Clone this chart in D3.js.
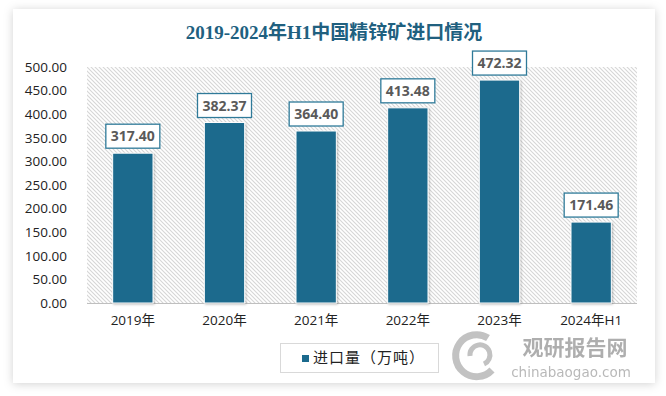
<!DOCTYPE html>
<html>
<head>
<meta charset="utf-8">
<script src="https://cdn.jsdelivr.net/npm/d3@7/dist/d3.min.js"></script>
<style>
  html, body { margin: 0; padding: 0; background: #ffffff; }
  svg { display: block; }
</style>
</head>
<body>
<svg id="chart" width="666" height="396"></svg>
<script>
const categories = ["2019年", "2020年", "2021年", "2022年", "2023年", "2024年H1"];
const imports = [317.40, 382.37, 364.40, 413.48, 472.32, 171.46];
const yTicks = [0, 50, 100, 150, 200, 250, 300, 350, 400, 450, 500];
const titleText = "2019-2024年H1中国精锌矿进口情况";
const seriesName = "进口量（万吨）";

const svg = d3.select("#chart");
const defs = svg.append("defs");

const shadow = defs.append("filter").attr("id", "cardShadow")
  .attr("x", "-5%").attr("y", "-5%").attr("width", "110%").attr("height", "112%");
shadow.append("feDropShadow").attr("dx", 0).attr("dy", 1).attr("stdDeviation", 5)
  .attr("flood-color", "#000").attr("flood-opacity", 0.18);

const pat = defs.append("pattern").attr("id", "hatch")
  .attr("patternUnits", "userSpaceOnUse").attr("width", 4).attr("height", 4);
pat.append("rect").attr("width", 4).attr("height", 4).attr("fill", "#ffffff");
pat.append("path").attr("d", "M-1,-1 L5,5 M-1,3 L1,5 M3,-1 L5,1")
  .attr("stroke", "#d6d6d6").attr("stroke-width", 1.1);

const barShadow = defs.append("filter").attr("id", "barShadow")
  .attr("x", "-20%").attr("y", "-10%").attr("width", "140%").attr("height", "120%");
barShadow.append("feDropShadow").attr("dx", 1).attr("dy", 1).attr("stdDeviation", 1)
  .attr("flood-color", "#000").attr("flood-opacity", 0.25);

// card
svg.append("rect").attr("x", 13).attr("y", 9).attr("width", 642).attr("height", 374)
  .attr("fill", "#ffffff").attr("filter", "url(#cardShadow)");

// title
svg.append("text").attr("x", 334).attr("y", 39).attr("text-anchor", "middle")
  .attr("font-family", "'Liberation Serif', 'Noto Sans CJK SC', serif")
  .attr("font-weight", "bold").attr("font-size", 19).attr("fill", "#20607f")
  .text(titleText);

const plot = { left: 87, right: 637, top: 67, bottom: 303 };

const x = d3.scaleBand().domain(categories).range([plot.left, plot.right]).paddingInner(0.56).paddingOuter(0.28);
const y = d3.scaleLinear().domain([0, 500]).range([plot.bottom, plot.top]);

// plot background hatch
svg.append("rect").attr("x", plot.left).attr("y", plot.top)
  .attr("width", plot.right - plot.left).attr("height", plot.bottom - plot.top)
  .attr("fill", "url(#hatch)");

// y axis
const yAxis = svg.append("g").attr("transform", `translate(${plot.left},0)`)
  .call(d3.axisLeft(y).tickValues(yTicks).tickFormat(d3.format(".2f")).tickSize(0).tickPadding(20));
yAxis.select(".domain").remove();
yAxis.selectAll("text").attr("font-family", "'Open Sans', 'Liberation Sans', sans-serif")
  .attr("font-size", 13.5).attr("fill", "#222");

// x axis
const xAxis = svg.append("g").attr("transform", `translate(0,${plot.bottom})`)
  .call(d3.axisBottom(x).tickSize(0).tickPadding(12));
xAxis.select(".domain").attr("stroke", "#bfbfbf").attr("stroke-width", 1)
  .attr("d", `M${plot.left},0.5H${plot.right}`);
xAxis.selectAll("text").attr("font-family", "'Open Sans', 'Noto Sans CJK SC', sans-serif")
  .attr("font-size", 13.5).attr("fill", "#222");

// bars
svg.append("g").selectAll("rect").data(imports).join("rect")
  .attr("x", (d, i) => x(categories[i]))
  .attr("y", d => y(d))
  .attr("width", x.bandwidth())
  .attr("height", d => y(0) - y(d))
  .attr("fill", "#1b6a8d")
  .attr("stroke", "#ffffff").attr("stroke-width", 1)
  .attr("filter", "url(#barShadow)");

// value labels
const labels = svg.append("g").selectAll("g").data(imports).join("g")
  .attr("transform", (d, i) => `translate(${x(categories[i]) + x.bandwidth() / 2},${y(d) - 17})`);
labels.append("rect").attr("x", -27).attr("y", -12).attr("width", 54).attr("height", 24)
  .attr("fill", "#ffffff").attr("stroke", "#2f7a99").attr("stroke-width", 1.3);
labels.append("text").attr("text-anchor", "middle").attr("dy", "0.36em")
  .attr("font-family", "'Open Sans', 'Liberation Sans', sans-serif")
  .attr("font-weight", "bold").attr("font-size", 14).attr("fill", "#5a5a5a")
  .text(d => d3.format(".2f")(d));

// legend
const lg = svg.append("g").attr("transform", "translate(280,343)");
lg.append("rect").attr("x", 0.5).attr("y", 0.5).attr("width", 158).attr("height", 29)
  .attr("fill", "#ffffff").attr("stroke", "#d9d9d9");
lg.append("rect").attr("x", 22).attr("y", 12).attr("width", 7).attr("height", 7).attr("fill", "#1b6a8d");
lg.append("text").attr("x", 33).attr("y", 15).attr("dy", "0.36em")
  .attr("font-family", "'Noto Sans CJK SC', sans-serif").attr("font-size", 15)
  .attr("letter-spacing", 1).attr("fill", "#222")
  .text(seriesName);

// watermark
const wm = svg.append("g").attr("opacity", 0.6);
wm.append("path").attr("d", "M488,338 A21,21 0 1,0 492,370")
  .attr("fill", "none").attr("stroke", "#9a9a9a").attr("stroke-width", 7);
wm.append("path").attr("d", "M470,356 A10,10 0 1,1 484,364")
  .attr("fill", "none").attr("stroke", "#9a9a9a").attr("stroke-width", 5);
wm.append("text").attr("x", 575).attr("y", 355).attr("text-anchor", "middle")
  .attr("font-family", "'Noto Sans CJK SC', sans-serif").attr("font-weight", "bold")
  .attr("font-size", 21).attr("fill", "#7a7a7a").text("观研报告网");
wm.append("text").attr("x", 571).attr("y", 377).attr("text-anchor", "middle")
  .attr("font-family", "'DejaVu Sans', sans-serif")
  .attr("font-size", 13.5).attr("fill", "#8a8a8a").text("chinabaogao.com");
</script>
</body>
</html>
